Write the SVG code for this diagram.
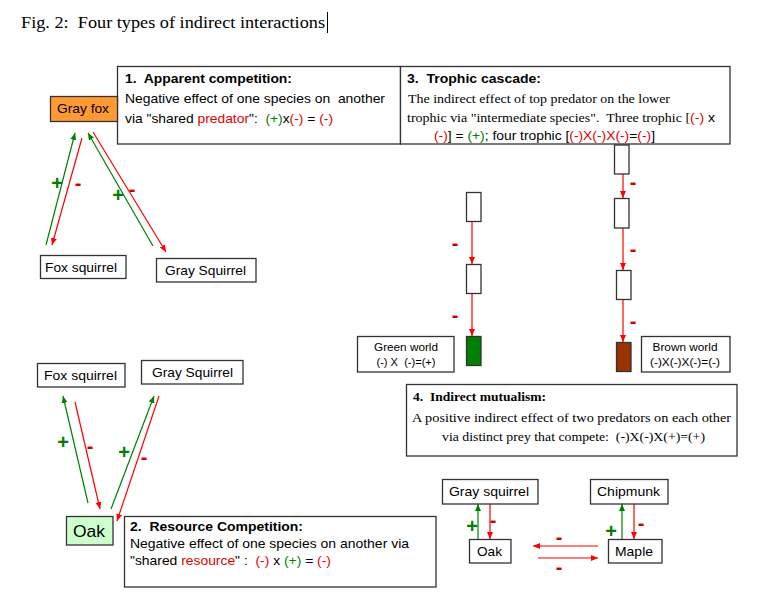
<svg xmlns="http://www.w3.org/2000/svg" width="777" height="613" viewBox="0 0 777 613" xml:space="preserve">
<style>
text{white-space:pre}
.bg{fill:#fff}
.box{fill:#fff;stroke:#333;stroke-width:1.3}
.sans{font-family:"Liberation Sans",Arial,sans-serif}
.serif{font-family:"Liberation Serif","Times New Roman",serif}
.lbl{font-family:"Liberation Sans",Arial,sans-serif;font-size:13px;fill:#000}
.r{fill:#e00000}
.g{fill:#008000}
.ar{stroke:#ff0000;stroke-width:1.2;fill:none;marker-end:url(#hr)}
.ag{stroke:#008000;stroke-width:1.2;fill:none;marker-end:url(#hg)}
.sign{font-family:"Liberation Sans",Arial,sans-serif;font-size:20px;font-weight:bold;text-anchor:middle}
.sr{fill:#cc0000}
.sg{fill:#008000}
</style>
<defs>
<marker id="hr" markerUnits="userSpaceOnUse" markerWidth="8" markerHeight="8" refX="7" refY="4" orient="auto"><path d="M0,1 L7,4 L0,7 z" fill="#ff0000"/></marker>
<marker id="hg" markerUnits="userSpaceOnUse" markerWidth="8" markerHeight="8" refX="7" refY="4" orient="auto"><path d="M0,1 L7,4 L0,7 z" fill="#008000"/></marker>
</defs>
<rect class="bg" x="0" y="0" width="777" height="613"/>

<g id="title">
<text class="serif" x="21" y="28" font-size="17" textLength="304" lengthAdjust="spacingAndGlyphs">Fig. 2:  Four types of indirect interactions</text>
<line x1="327.5" y1="12" x2="327.5" y2="33" stroke="#000" stroke-width="1"/>
</g>

<g id="connectors">
<!-- apparent competition -->
<line class="ag" x1="46" y1="245" x2="75" y2="133"/>
<line class="ar" x1="82" y1="138" x2="52" y2="245"/>
<line class="ag" x1="153" y1="246" x2="88" y2="133"/>
<line class="ar" x1="93" y1="132" x2="166" y2="252"/>
<!-- resource competition -->
<line class="ag" x1="88" y1="503" x2="63" y2="396"/>
<line class="ar" x1="75" y1="402" x2="100" y2="509"/>
<line class="ag" x1="111" y1="509" x2="154" y2="396"/>
<line class="ar" x1="159" y1="396" x2="117" y2="521"/>
<!-- trophic cascade left -->
<line class="ar" x1="472" y1="221" x2="472" y2="264"/>
<line class="ar" x1="472" y1="293" x2="472" y2="336"/>
<!-- trophic cascade right -->
<line class="ar" x1="623" y1="168" x2="623" y2="198"/>
<line class="ar" x1="623" y1="228" x2="623" y2="270"/>
<line class="ar" x1="623" y1="299" x2="623" y2="342"/>
<!-- indirect mutualism -->
<line class="ag" x1="478" y1="539" x2="478" y2="504"/>
<line class="ar" x1="490" y1="504" x2="490" y2="539"/>
<line class="ag" x1="622" y1="539" x2="622" y2="504"/>
<line class="ar" x1="634" y1="504" x2="634" y2="539"/>
<line class="ar" x1="598" y1="546" x2="533" y2="546"/>
<line class="ar" x1="538" y1="558" x2="598" y2="558"/>
<!-- signs -->
<text class="sign sg" x="57" y="190">+</text>
<text class="sign sr" x="78" y="190">-</text>
<text class="sign sg" x="118" y="202">+</text>
<text class="sign sr" x="132" y="196">-</text>
<text class="sign sg" x="63" y="449">+</text>
<text class="sign sr" x="90" y="453">-</text>
<text class="sign sg" x="124" y="459">+</text>
<text class="sign sr" x="144" y="464">-</text>
<text class="sign sr" x="455" y="250">-</text>
<text class="sign sr" x="455" y="322">-</text>
<text class="sign sr" x="633" y="189">-</text>
<text class="sign sr" x="633" y="256">-</text>
<text class="sign sr" x="633" y="328">-</text>
<text class="sign sg" x="472" y="533">+</text>
<text class="sign sr" x="493" y="527">-</text>
<text class="sign sg" x="611" y="538">+</text>
<text class="sign sr" x="641" y="530">-</text>
<text class="sign sr" x="559" y="544">-</text>
<text class="sign sr" x="559" y="574">-</text>
</g>

<g id="box-apparent">
<rect class="box" x="117.5" y="66.5" width="283" height="77.5"/>
<text class="sans" x="125" y="83" font-size="12.5" font-weight="bold" textLength="167" lengthAdjust="spacingAndGlyphs">1.  Apparent competition:</text>
<text class="sans" x="125" y="103" font-size="13" textLength="260" lengthAdjust="spacingAndGlyphs">Negative effect of one species on  another</text>
<text class="sans" x="125" y="123" font-size="13" textLength="208" lengthAdjust="spacingAndGlyphs">via "shared <tspan class="r">predator</tspan>":  <tspan class="g">(+)</tspan>x<tspan class="r">(-)</tspan> = <tspan class="r">(-)</tspan></text>
</g>

<g id="gray-fox">
<rect x="50.5" y="96.5" width="67" height="25" fill="#ff9933" stroke="#333" stroke-width="1.3"/>
<text class="lbl" x="57" y="113" textLength="52" lengthAdjust="spacingAndGlyphs">Gray fox</text>
</g>
<g id="fox-squirrel-1">
<rect class="box" x="40.5" y="255.5" width="85.5" height="23"/>
<text class="lbl" x="45" y="272" textLength="72" lengthAdjust="spacingAndGlyphs">Fox squirrel</text>
</g>
<g id="gray-squirrel-1">
<rect class="box" x="156.5" y="258.5" width="99.5" height="23.5"/>
<text class="lbl" x="165" y="275" textLength="81" lengthAdjust="spacingAndGlyphs">Gray Squirrel</text>
</g>

<g id="box-trophic">
<rect class="box" x="400.5" y="66.5" width="329.5" height="77.5"/>
<text class="sans" x="407" y="83" font-size="12.5" font-weight="bold" textLength="134" lengthAdjust="spacingAndGlyphs">3.  Trophic cascade:</text>
<text class="serif" x="408" y="103" font-size="13" textLength="262" lengthAdjust="spacingAndGlyphs">The indirect effect of top predator on the lower</text>
<text class="serif" x="407" y="122" font-size="13" textLength="308" lengthAdjust="spacingAndGlyphs">trophic via "intermediate species".  Three trophic [<tspan class="r sans">(-)</tspan><tspan class="sans"> x</tspan></text>
<text class="sans" x="434" y="140" font-size="13" textLength="221" lengthAdjust="spacingAndGlyphs"><tspan class="r">(-)</tspan>] = <tspan class="g">(+)</tspan>; four trophic [<tspan class="r">(-)</tspan><tspan class="r">X</tspan><tspan class="r">(-)</tspan><tspan class="r">X</tspan><tspan class="r">(-)</tspan>=<tspan class="r">(-)</tspan>]</text>
</g>

<g id="tc-left-1"><rect class="box" x="466.5" y="192.5" width="14.5" height="29"/></g>
<g id="tc-left-2"><rect class="box" x="466.5" y="264.5" width="14.5" height="29"/></g>
<g id="tc-left-3"><rect x="466.5" y="336.5" width="14.5" height="29" fill="#008000" stroke="#333" stroke-width="1.3"/></g>
<g id="green-world">
<rect class="box" x="357.5" y="336.5" width="96.5" height="35.5"/>
<text class="sans" x="406" y="351" font-size="11" text-anchor="middle" textLength="64" lengthAdjust="spacingAndGlyphs">Green world</text>
<text class="sans" x="406" y="366" font-size="11" text-anchor="middle" textLength="59" lengthAdjust="spacingAndGlyphs">(-) X  (-)=(+)</text>
</g>

<g id="tc-right-1"><rect class="box" x="614.5" y="145" width="14.5" height="29"/></g>
<g id="tc-right-2"><rect class="box" x="614.5" y="198.5" width="14.5" height="29.5"/></g>
<g id="tc-right-3"><rect class="box" x="616.5" y="270.5" width="14.5" height="29"/></g>
<g id="tc-right-4"><rect x="616.5" y="342.5" width="14.5" height="29" fill="#993300" stroke="#333" stroke-width="1.3"/></g>
<g id="brown-world">
<rect class="box" x="641.5" y="336.5" width="88.5" height="35.5"/>
<text class="sans" x="685" y="351" font-size="11" text-anchor="middle" textLength="65" lengthAdjust="spacingAndGlyphs">Brown world</text>
<text class="sans" x="685" y="366" font-size="11" text-anchor="middle" textLength="70" lengthAdjust="spacingAndGlyphs">(-)X(-)X(-)=(-)</text>
</g>

<g id="box-mutualism">
<rect class="box" x="406.5" y="384.5" width="330.5" height="71.5"/>
<text class="serif" x="413" y="401" font-size="13" font-weight="bold" textLength="133" lengthAdjust="spacingAndGlyphs">4.  Indirect mutualism:</text>
<text class="serif" x="412" y="422" font-size="13" textLength="319" lengthAdjust="spacingAndGlyphs">A positive indirect effect of two predators on each other</text>
<text class="serif" x="442" y="441" font-size="13" textLength="263" lengthAdjust="spacingAndGlyphs">via distinct prey that compete:  (-)X(-)X(+)=(+)</text>
</g>

<g id="fox-squirrel-2">
<rect class="box" x="37.5" y="363.5" width="87.5" height="23.5"/>
<text class="lbl" x="44" y="380" textLength="73" lengthAdjust="spacingAndGlyphs">Fox squirrel</text>
</g>
<g id="gray-squirrel-2">
<rect class="box" x="141.5" y="360.5" width="101.5" height="23.5"/>
<text class="lbl" x="152" y="377" textLength="81" lengthAdjust="spacingAndGlyphs">Gray Squirrel</text>
</g>
<g id="oak-1">
<rect x="66.5" y="516.5" width="46.5" height="28.5" fill="#ccffcc" stroke="#333" stroke-width="1.3"/>
<text class="sans" x="73" y="537" font-size="17" textLength="32" lengthAdjust="spacingAndGlyphs">Oak</text>
</g>

<g id="box-resource">
<rect class="box" x="124.5" y="516.5" width="311.5" height="70.5"/>
<text class="sans" x="130" y="531" font-size="12.5" font-weight="bold" textLength="173" lengthAdjust="spacingAndGlyphs">2.  Resource Competition:</text>
<text class="sans" x="130" y="548" font-size="13" textLength="279" lengthAdjust="spacingAndGlyphs">Negative effect of one species on another via</text>
<text class="sans" x="130" y="565" font-size="13" textLength="201" lengthAdjust="spacingAndGlyphs">"shared <tspan class="r">resource</tspan>" :  <tspan class="r">(-)</tspan> x <tspan class="g">(+)</tspan> = <tspan class="r">(-)</tspan></text>
</g>

<g id="gray-squirrel-3">
<rect class="box" x="442.5" y="479.5" width="95.5" height="24.5"/>
<text class="lbl" x="449" y="496" textLength="80" lengthAdjust="spacingAndGlyphs">Gray squirrel</text>
</g>
<g id="chipmunk">
<rect class="box" x="590.5" y="479.5" width="77.5" height="24.5"/>
<text class="lbl" x="597" y="496" textLength="63" lengthAdjust="spacingAndGlyphs">Chipmunk</text>
</g>
<g id="oak-2">
<rect class="box" x="469.5" y="539.5" width="41.5" height="23.5"/>
<text class="lbl" x="477" y="556" textLength="25" lengthAdjust="spacingAndGlyphs">Oak</text>
</g>
<g id="maple">
<rect class="box" x="608.5" y="539.5" width="53.5" height="23.5"/>
<text class="lbl" x="615" y="556" textLength="38" lengthAdjust="spacingAndGlyphs">Maple</text>
</g>
</svg>
